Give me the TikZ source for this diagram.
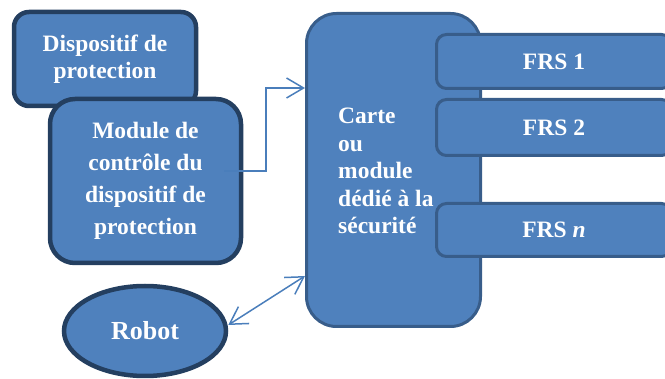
\documentclass[tikz,border=0pt]{standalone}
\usepackage{fontspec}
\setmainfont{Liberation Serif}
\usetikzlibrary{arrows.meta,shapes.geometric}
\definecolor{boxfill}{HTML}{4F81BD}
\definecolor{navyedge}{HTML}{243F60}
\definecolor{blueedge}{HTML}{385D8A}
\definecolor{linkblue}{HTML}{4A7EBB}
\tikzset{
  darkbox/.style={draw=navyedge, line width=4.5pt, fill=boxfill, text=white,
    font=\bfseries\fontsize{23.5}{27}\selectfont, align=center, inner sep=0pt},
  bluebox/.style={draw=blueedge, line width=3pt, fill=boxfill, text=white,
    font=\bfseries\fontsize{23.5}{27}\selectfont, align=center, inner sep=0pt},
  label/.style={text=white, font=\bfseries\fontsize{23.5}{27.5}\selectfont, inner sep=0pt},
  link/.style={draw=linkblue, line width=1.5pt,
    arrows={-Straight Barb[length=17pt,width=20pt,line width=1.5pt]}},
  twoway/.style={draw=linkblue, line width=1.5pt,
    arrows={Straight Barb[length=17pt,width=20pt,line width=1.5pt]-Straight Barb[length=17pt,width=20pt,line width=1.5pt]}}
}
\begin{document}
\begin{tikzpicture}[x=1pt,y=-1pt]
\useasboundingbox (0,0) rectangle (665,379);
\clip (0,0) rectangle (665,379);

% protection device and its control module
\node[darkbox, rounded corners=15pt, minimum width=182pt, minimum height=94pt]
  (device) at (105,59) {\raisebox{-3pt}{Dispositif de}\\\raisebox{-3pt}{protection}};
\node[darkbox, rounded corners=25pt, minimum width=191pt, minimum height=164pt,
  font=\bfseries\fontsize{23.5}{32}\selectfont]
  (module) at (145.5,181) {Module de\\contrôle du\\dispositif de\\protection};

% safety card
\node[bluebox, rounded corners=30pt, minimum width=174pt, minimum height=313pt]
  (carte) at (393.5,170) {};
\node[label, anchor=north west, align=left] (cartetext) at (338,108)
  {Carte\\ou\\module\\dédié à la\\sécurité};

% safety functions
\node[bluebox, rounded corners=10pt, minimum width=235pt, minimum height=54pt]
  (frs1) at (554,61.5) {\raisebox{-2pt}{FRS 1}};
\node[bluebox, rounded corners=10pt, minimum width=235pt, minimum height=56pt]
  (frs2) at (554,127.5) {FRS 2};
\node[bluebox, rounded corners=10pt, minimum width=235pt, minimum height=53pt]
  (frsn) at (554,230) {FRS \textit{n}};

% robot
\node[darkbox, ellipse, minimum width=162pt, minimum height=90pt,
  font=\bfseries\fontsize{26}{30}\selectfont]
  (robot) at (145,331) {Robot};

% connectors
\coordinate (modout) at (224,171);
\draw[link] (modout) -- ++(42,0) |- ([yshift=82pt]carte.west);
\draw[twoway] ([yshift=6pt]robot.east) -- ([yshift=-106pt]carte.west);
\end{tikzpicture}
\end{document}
